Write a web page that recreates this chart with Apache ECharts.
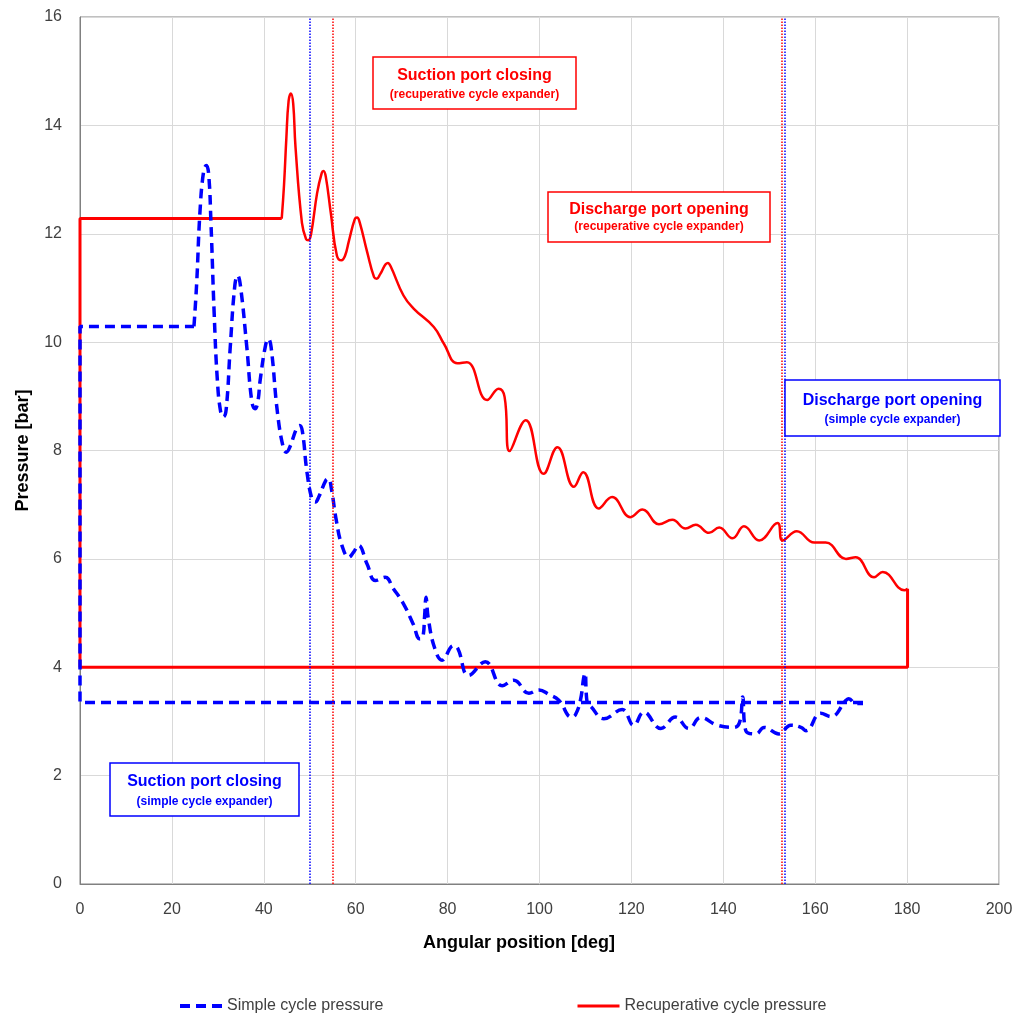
<!DOCTYPE html>
<html>
<head>
<meta charset="utf-8">
<script src="https://cdn.jsdelivr.net/npm/echarts@6/dist/echarts.min.js"></script>
<style>
    html, body { margin: 0; padding: 0; background: #fff; }
    #pressureChart { width: 1017px; height: 1017px; }
</style>
</head>
<body>
<div id="pressureChart"></div>
<script>
// simple cycle: closed loop, flat parts and wavy part kept apart
var simpleStep = [[170.4, 3.35], [0, 3.35], [0, 10.29], [24.8, 10.29]];
var simpleWave = [
    [24.8, 10.29], [25.4, 11.1], [26.1, 12.39], [26.9, 13.15], [27.5, 13.26], [28.0, 13.1],
    [28.5, 12.2], [29.2, 10.53], [29.9, 9.29], [30.6, 8.72], [31.2, 8.62], [31.8, 8.75],
    [32.7, 9.91], [33.7, 11.05], [34.3, 11.23], [34.9, 11.05], [36.3, 9.91], [37.4, 8.9],
    [38.1, 8.77], [38.7, 8.9], [39.2, 9.29], [40.4, 9.95], [41.0, 10.06], [41.6, 9.9],
    [43.0, 8.68], [44.3, 8.03], [44.9, 7.97], [45.6, 8.05], [47.2, 8.42], [47.8, 8.46],
    [48.4, 8.35], [49.4, 7.6], [50.5, 7.1], [51.2, 7.05], [52.0, 7.15], [53.5, 7.45],
    [54.1, 7.48], [54.7, 7.3], [55.8, 6.7], [57.0, 6.25], [58.5, 6.03], [59.5, 6.12],
    [60.6, 6.25], [62.5, 5.9], [64.3, 5.60], [66.4, 5.66], [68.2, 5.45], [70.4, 5.17],
    [72.5, 4.8], [74.0, 4.52], [74.6, 4.55], [75.0, 4.95], [75.3, 5.29], [75.8, 4.9],
    [77.2, 4.35], [78.8, 4.13], [81.3, 4.40], [82.2, 4.35], [84.6, 3.85], [88.2, 4.10],
    [91.9, 3.66], [94.4, 3.76], [97.7, 3.52], [99.9, 3.58], [102.0, 3.5], [104.2, 3.39],
    [107.0, 3.08], [107.8, 3.12], [108.9, 3.39], [109.6, 3.8], [109.9, 3.89], [110.4, 3.33],
    [111.1, 3.28], [114.0, 3.05], [118.0, 3.22], [120.5, 2.93], [122.7, 3.17], [126.4, 2.87],
    [129.6, 3.08], [132.5, 2.87], [135.1, 3.07], [138.7, 2.93], [142.3, 2.89], [143.6, 3.0],
    [144.2, 3.45], [144.9, 2.83], [147.1, 2.77], [148.9, 2.89], [152.1, 2.77], [154.7, 2.93],
    [156.9, 2.89], [158.0, 2.83], [161.2, 3.15], [163.4, 3.09], [166.7, 3.39], [167.3, 3.42],
    [168.8, 3.33], [170.4, 3.33]
];

// recuperative cycle
var recupStep = [[180.1, 5.45], [180.1, 4.0], [0, 4.0], [0, 12.28], [43.9, 12.28]];
var recupWave = [
    [43.9, 12.28], [44.4, 12.9], [44.9, 13.75], [45.4, 14.45], [45.9, 14.59], [46.4, 14.4],
    [46.9, 13.6], [48.3, 12.2], [49.2, 11.9], [49.7, 11.88], [50.3, 12.0], [51.6, 12.75],
    [52.6, 13.12], [53.0, 13.16], [53.5, 13.05], [54.6, 12.37], [55.9, 11.6], [56.9, 11.51],
    [57.7, 11.6], [58.5, 11.86], [59.8, 12.27], [60.3, 12.30], [60.9, 12.2], [62.5, 11.66],
    [64.0, 11.2], [64.6, 11.17], [65.3, 11.25], [67.0, 11.46], [67.6, 11.4], [70.4, 10.86],
    [72.6, 10.62], [77.0, 10.28], [79.2, 9.97], [82.1, 9.61], [84.2, 9.63], [88.6, 8.93],
    [91.1, 9.14], [92.4, 8.99], [93.5, 7.99], [97.0, 8.56], [100.9, 7.57], [103.9, 8.06],
    [107.5, 7.33], [109.5, 7.60], [112.9, 6.93], [115.8, 7.14], [119.8, 6.77], [122.4, 6.91],
    [126.0, 6.64], [128.9, 6.72], [131.8, 6.56], [134.0, 6.63], [136.9, 6.48], [139.1, 6.58],
    [142.0, 6.38], [144.5, 6.60], [147.8, 6.34], [151.8, 6.66], [152.9, 6.34], [156.0, 6.51],
    [159.8, 6.30], [162.3, 6.30], [166.7, 6.00], [168.8, 6.03], [172.8, 5.66], [174.7, 5.76],
    [179.4, 5.42], [180.1, 5.45]
];

// port events [deg]
var simplePorts = [50, 153.3];
var recupPorts = [55, 152.7];

var xTicks = { min: 0, max: 200, interval: 20 };
var yTicks = { min: 0, max: 16, interval: 2 };

var BLUE = '#0000ff';
var RED = '#ff0000';
var FONT = '"Liberation Sans", Arial, sans-serif';

function portLines(list, color) {
    return {
        silent: true,
        symbol: 'none',
        label: { show: false },
        lineStyle: { color: color, type: 'dotted', width: 1.5 },
        data: list.map(function (v) { return { xAxis: v }; })
    };
}

function noteBox(x, y, w, h, color, title, sub, titleY, subY) {
    return {
        type: 'group',
        z: 100,
        children: [
            { type: 'rect', z: 100, shape: { x: x, y: y, width: w, height: h },
              style: { fill: '#fff', stroke: color, lineWidth: 1.5 } },
            { type: 'text', z: 101, x: x + w / 2, y: titleY,
              style: { text: title, fill: color, font: 'bold 16px ' + FONT, align: 'center', verticalAlign: 'middle' } },
            { type: 'text', z: 101, x: x + w / 2, y: subY,
              style: { text: sub, fill: color, font: 'bold 12px ' + FONT, align: 'center', verticalAlign: 'middle' } }
        ]
    };
}

var myChart = echarts.init(document.getElementById('pressureChart'));

var option = {
    animation: false,
    textStyle: { fontFamily: FONT },
    grid: {
        left: 80, right: 18, top: 17, bottom: 133,
        show: true, borderColor: '#808080', borderWidth: 1
    },
    legend: {
        top: 993, left: 175,
        itemGap: 194, itemWidth: 42, itemHeight: 4,
        textStyle: { fontSize: 16, color: '#404040' },
        data: [
            { name: 'Simple cycle pressure', icon: 'path://M0,0h10v4h-10z M16,0h10v4h-10z M32,0h10v4h-10z' },
            { name: 'Recuperative cycle pressure', icon: 'path://M0,0h42v3h-42z' }
        ]
    },
    xAxis: {
        type: 'value',
        min: xTicks.min, max: xTicks.max, interval: xTicks.interval,
        name: 'Angular position [deg]',
        nameLocation: 'middle', nameGap: 50,
        nameTextStyle: { fontSize: 18, fontWeight: 'bold', color: '#000', padding: [0, 41, 0, 0] },
        axisLine: { show: true, lineStyle: { color: '#808080' } },
        axisTick: { show: false },
        axisLabel: { fontSize: 16, color: '#404040', margin: 18 },
        splitLine: { lineStyle: { color: '#d9d9d9' } }
    },
    yAxis: {
        type: 'value',
        min: yTicks.min, max: yTicks.max, interval: yTicks.interval,
        name: 'Pressure [bar]',
        nameLocation: 'middle', nameGap: 48,
        nameTextStyle: { fontSize: 18, fontWeight: 'bold', color: '#000' },
        axisLine: { show: true, lineStyle: { color: '#808080' } },
        axisTick: { show: false },
        axisLabel: { fontSize: 16, color: '#404040', margin: 18 },
        splitLine: { lineStyle: { color: '#d9d9d9' } }
    },
    series: [
        {
            name: 'Recuperative cycle pressure', type: 'line',
            data: recupStep, showSymbol: false, symbol: 'none',
            lineStyle: { color: RED, width: 3 }, itemStyle: { color: RED },
            markLine: portLines(recupPorts, RED)
        },
        {
            name: 'Recuperative cycle pressure', type: 'line',
            data: recupWave, smooth: 0.45, showSymbol: false, symbol: 'none',
            lineStyle: { color: RED, width: 2.5 }, itemStyle: { color: RED }
        },
        {
            name: 'Simple cycle pressure', type: 'line',
            data: simpleStep, showSymbol: false, symbol: 'none',
            lineStyle: { color: BLUE, width: 3.5, type: [10, 6] }, itemStyle: { color: BLUE },
            markLine: portLines(simplePorts, BLUE)
        },
        {
            name: 'Simple cycle pressure', type: 'line',
            data: simpleWave, smooth: 0.45, showSymbol: false, symbol: 'none',
            lineStyle: { color: BLUE, width: 3.5, type: [10, 6] }, itemStyle: { color: BLUE }
        }
    ],
    graphic: [
        noteBox(373, 57, 203, 52, RED, 'Suction port closing', '(recuperative cycle expander)', 76, 95),
        noteBox(548, 192, 222, 50, RED, 'Discharge port opening', '(recuperative cycle expander)', 210, 227),
        noteBox(785, 380, 215, 56, BLUE, 'Discharge port opening', '(simple cycle expander)', 401, 420),
        noteBox(110, 763, 189, 53, BLUE, 'Suction port closing', '(simple cycle expander)', 782, 802)
    ]
};

myChart.setOption(option);
window.addEventListener('resize', myChart.resize);
</script>
</body>
</html>
